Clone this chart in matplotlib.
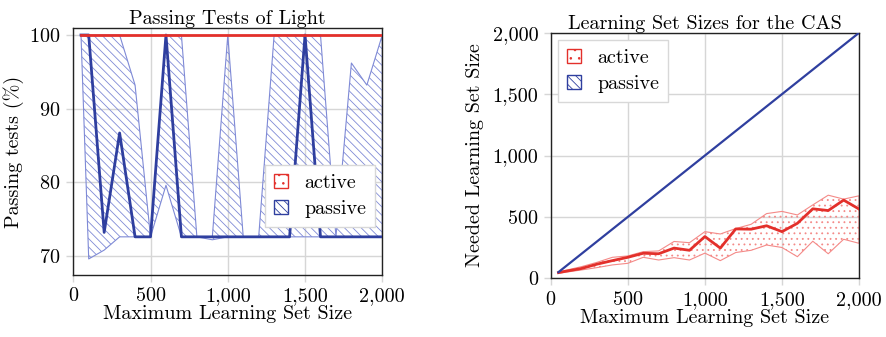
import matplotlib
matplotlib.use("Agg")
import matplotlib.pyplot as plt
from matplotlib.patches import Patch
from matplotlib.ticker import FuncFormatter, FixedLocator

plt.rcParams['font.family'] = ['cmr10', 'DejaVu Serif']
plt.rcParams['axes.formatter.use_mathtext'] = True
plt.rcParams['hatch.linewidth'] = 0.6

# ---------------- data ----------------
sizes = [50, 100, 200, 300, 400, 500, 600, 700, 800, 900, 1000,
         1100, 1200, 1300, 1400, 1500, 1600, 1700, 1800, 1900, 2000]

# Left chart: Passing Tests of Light (%)
light_active = [100] * 21
light_passive_mean = [100, 100, 73.2, 86.7, 72.6, 72.6, 100, 72.6, 72.6, 72.6, 72.6,
                      72.6, 72.6, 72.6, 72.6, 100, 72.6, 72.6, 72.6, 72.6, 72.6]
light_passive_low = [100, 69.6, 70.8, 72.6, 72.6, 72.6, 79.6, 72.6, 72.6, 72.2, 72.6,
                     72.6, 72.6, 72.6, 72.6, 72.6, 72.6, 72.6, 72.6, 72.6, 72.6]
light_passive_high = [100, 100, 100, 100, 93.2, 72.6, 100, 100, 72.6, 72.6, 100,
                      72.6, 72.6, 100, 100, 100, 100, 72.6, 96.2, 93.2, 100]

# Right chart: Learning Set Sizes for the CAS
cas_active_mean = [46, 58, 80, 115, 144, 171, 204, 200, 246, 228, 340,
                   246, 402, 400, 428, 380, 448, 566, 552, 637, 564]
cas_active_low = [41, 50, 68, 87, 109, 122, 171, 149, 168, 149, 205,
                  144, 210, 228, 271, 251, 176, 302, 200, 318, 285]
cas_active_high = [54, 66, 95, 130, 171, 182, 217, 223, 300, 290, 380,
                   361, 405, 440, 527, 545, 516, 598, 677, 645, 672]
cas_passive = [50, 100, 200, 300, 400, 500, 600, 700, 800, 900, 1000,
               1100, 1200, 1300, 1400, 1500, 1600, 1700, 1800, 1900, 2000]

x_ticks = [0, 500, 1000, 1500, 2000]
left_y_ticks = [70, 80, 90, 100]
right_y_ticks = [0, 500, 1000, 1500, 2000]

# ---------------- style ----------------
RED = '#e3302b'
RED_LIGHT = '#f48a88'
BLUE = '#2f3f9f'
BLUE_LIGHT = '#7f8ad6'
GRID = '#d6d6d6'
FS = 14.5

fig = plt.figure(figsize=(8.87, 3.37), dpi=100)
axL = fig.add_axes([0.0826, 0.184, 0.3484, 0.732])
axR = fig.add_axes([0.6209, 0.1742, 0.3476, 0.7285])

comma = FuncFormatter(lambda v, p: '{:,.0f}'.format(v))

def style(ax):
    ax.grid(True, color=GRID, linewidth=1.0)
    ax.set_axisbelow(True)
    for s in ax.spines.values():
        s.set_color('#222222')
        s.set_linewidth(1.0)
    ax.tick_params(direction='out', length=5, color=GRID, width=1.0,
                   labelsize=FS, pad=4)
    ax.xaxis.set_major_locator(FixedLocator(x_ticks))
    ax.xaxis.set_major_formatter(comma)
    ax.set_xlim(0, 2000)
    ax.set_xlabel('Maximum Learning Set Size', fontsize=FS, labelpad=0)

# Left
style(axL)
axL.fill_between(sizes, light_passive_low, light_passive_high, facecolor='none',
                 edgecolor=BLUE_LIGHT, hatch='\\\\\\\\', linewidth=0.8, zorder=2)
axL.plot(sizes, light_passive_mean, color=BLUE, linewidth=2.0, zorder=3)
axL.plot(sizes, light_active, color=RED, linewidth=2.0, zorder=4)
axL.set_ylim(67.42, 100.91)
axL.yaxis.set_major_locator(FixedLocator(left_y_ticks))
axL.set_ylabel('Passing tests (%)', fontsize=FS, labelpad=4)
axL.set_title('Passing Tests of Light', fontsize=FS, pad=1)

# Right
style(axR)
axR.fill_between(sizes, cas_active_low, cas_active_high, facecolor='none',
                 edgecolor=RED_LIGHT, hatch='...', linewidth=0.8, zorder=2)
axR.plot(sizes, cas_active_mean, color=RED, linewidth=2.0, zorder=3)
axR.plot(sizes, cas_passive, color=BLUE, linewidth=1.6, zorder=4)
axR.set_ylim(0, 2000)
axR.yaxis.set_major_locator(FixedLocator(right_y_ticks))
axR.yaxis.set_major_formatter(comma)
axR.set_ylabel('Needed Learning Set Size', fontsize=FS, labelpad=6)
axR.set_title('Learning Set Sizes for the CAS', fontsize=FS, pad=3)

handles = [Patch(facecolor='white', edgecolor=RED, hatch='..', linewidth=1.0, label='active'),
           Patch(facecolor='white', edgecolor=BLUE, hatch='\\\\\\\\', linewidth=1.0, label='passive')]

for ax, loc, anchor in [(axL, 'center right', (1.0, 0.32)), (axR, 'upper left', (0.0, 1.0))]:
    leg = ax.legend(handles=handles, loc=loc, bbox_to_anchor=anchor, fontsize=FS,
                    fancybox=False, framealpha=1.0, edgecolor='#d8d8d8',
                    handlelength=0.7, handleheight=0.7, handletextpad=0.8,
                    borderpad=0.45, labelspacing=0.4, borderaxespad=0.35)
    leg.get_frame().set_linewidth(1.0)

fig.savefig('out.png', dpi=100)
